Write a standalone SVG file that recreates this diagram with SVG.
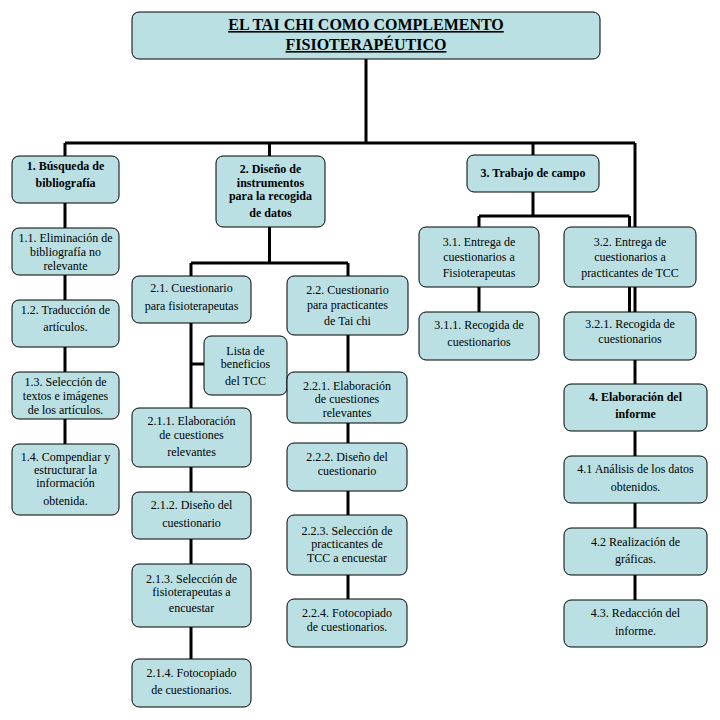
<svg xmlns="http://www.w3.org/2000/svg" width="720" height="720" viewBox="0 0 720 720">
<style>
.b{fill:#bbe0e3;stroke:#000;stroke-width:1}
.t{font-family:Liberation Serif,Times New Roman,Times,serif;font-size:12px;fill:#000;text-anchor:middle}
.bd{font-weight:bold}
.ti{font-family:Liberation Serif,Times New Roman,Times,serif;font-size:16px;font-weight:bold;fill:#000;text-anchor:middle;text-decoration:underline}
.c{stroke:#000;stroke-width:3;fill:none}
</style>
<rect width="720" height="720" fill="#fff"/>
<g id="connectors">
<path class="c" d="M366 59V143M65 143H635M65 143V444M269.5 143V263M191 263H348M191 263V659M348 263V599M191 364H204M533 143V216M479 216H629.5M479 216V312M629.5 216V312M635 143V600"/>
</g>
<g id="title"><rect class="b" x="132" y="12" width="468" height="47" rx="7"/><text class="ti" x="366" y="30">EL TAI CHI COMO COMPLEMENTO</text><text class="ti" x="366" y="50">FISIOTERAPÉUTICO</text></g>
<g id="n1"><rect class="b" x="12" y="156" width="107" height="47" rx="7"/><text class="t bd" x="65.5" y="170">1. Búsqueda de</text><text class="t bd" x="65.5" y="187">bibliografía</text></g>
<g id="n1_1"><rect class="b" x="12" y="228" width="107" height="47" rx="7"/><text class="t" x="65.5" y="242">1.1. Eliminación de</text><text class="t" x="65.5" y="256">bibliografía no</text><text class="t" x="65.5" y="270">relevante</text></g>
<g id="n1_2"><rect class="b" x="12" y="300" width="107" height="47" rx="7"/><text class="t" x="65.5" y="314">1.2. Traducción de</text><text class="t" x="65.5" y="331">artículos.</text></g>
<g id="n1_3"><rect class="b" x="12" y="372" width="107" height="47" rx="7"/><text class="t" x="65.5" y="386">1.3. Selección de</text><text class="t" x="65.5" y="400">textos e imágenes</text><text class="t" x="65.5" y="414">de los artículos.</text></g>
<g id="n1_4"><rect class="b" x="12" y="444" width="107" height="71" rx="7"/><text class="t" x="65.5" y="461">1.4. Compendiar y</text><text class="t" x="65.5" y="474">estructurar la</text><text class="t" x="65.5" y="487">información</text><text class="t" x="65.5" y="505">obtenida.</text></g>
<g id="n2"><rect class="b" x="216" y="156" width="109" height="71" rx="7"/><text class="t bd" x="270.5" y="173">2. Diseño de</text><text class="t bd" x="270.5" y="187">instrumentos</text><text class="t bd" x="270.5" y="200">para la recogida</text><text class="t bd" x="270.5" y="217">de datos</text></g>
<g id="n2_1"><rect class="b" x="132" y="276" width="119" height="47" rx="7"/><text class="t" x="191.5" y="292">2.1. Cuestionario</text><text class="t" x="191.5" y="310">para fisioterapeutas</text></g>
<g id="lista"><rect class="b" x="204" y="336" width="83" height="59" rx="7"/><text class="t" x="245.5" y="355">Lista de</text><text class="t" x="245.5" y="368">beneficios</text><text class="t" x="245.5" y="385">del TCC</text></g>
<g id="n2_1_1"><rect class="b" x="132" y="408" width="119" height="59" rx="7"/><text class="t" x="191.5" y="425">2.1.1. Elaboración</text><text class="t" x="191.5" y="439">de cuestiones</text><text class="t" x="191.5" y="456">relevantes</text></g>
<g id="n2_1_2"><rect class="b" x="132" y="492" width="119" height="47" rx="7"/><text class="t" x="191.5" y="509">2.1.2. Diseño del</text><text class="t" x="191.5" y="527">cuestionario</text></g>
<g id="n2_1_3"><rect class="b" x="132" y="564" width="119" height="63" rx="7"/><text class="t" x="191.5" y="583">2.1.3. Selección de</text><text class="t" x="191.5" y="596">fisioterapeutas a</text><text class="t" x="191.5" y="612">encuestar</text></g>
<g id="n2_1_4"><rect class="b" x="132" y="659" width="119" height="48" rx="7"/><text class="t" x="191.5" y="677">2.1.4. Fotocopiado</text><text class="t" x="191.5" y="694">de cuestionarios.</text></g>
<g id="n2_2"><rect class="b" x="287" y="276" width="121" height="59" rx="7"/><text class="t" x="347.5" y="294">2.2. Cuestionario</text><text class="t" x="347.5" y="309">para practicantes</text><text class="t" x="347.5" y="325">de Tai chi</text></g>
<g id="n2_2_1"><rect class="b" x="287" y="372" width="120" height="51" rx="7"/><text class="t" x="347" y="390">2.2.1. Elaboración</text><text class="t" x="347" y="403">de cuestiones</text><text class="t" x="347" y="417">relevantes</text></g>
<g id="n2_2_2"><rect class="b" x="287" y="443" width="120" height="48" rx="7"/><text class="t" x="347" y="461">2.2.2. Diseño del</text><text class="t" x="347" y="475">cuestionario</text></g>
<g id="n2_2_3"><rect class="b" x="287" y="515" width="120" height="60" rx="7"/><text class="t" x="347" y="535">2.2.3. Selección de</text><text class="t" x="347" y="548">practicantes de</text><text class="t" x="347" y="562">TCC a encuestar</text></g>
<g id="n2_2_4"><rect class="b" x="287" y="599" width="120" height="48" rx="7"/><text class="t" x="347" y="617">2.2.4. Fotocopiado</text><text class="t" x="347" y="631">de cuestionarios.</text></g>
<g id="n3"><rect class="b" x="467" y="155" width="132" height="37" rx="7"/><text class="t bd" x="533" y="177">3. Trabajo de campo</text></g>
<g id="n3_1"><rect class="b" x="419" y="227" width="120" height="60" rx="7"/><text class="t" x="479" y="246">3.1. Entrega de</text><text class="t" x="479" y="261">cuestionarios a</text><text class="t" x="479" y="277">Fisioterapeutas</text></g>
<g id="n3_1_1"><rect class="b" x="419" y="312" width="120" height="48" rx="7"/><text class="t" x="479" y="329">3.1.1. Recogida de</text><text class="t" x="479" y="346">cuestionarios</text></g>
<g id="n3_2"><rect class="b" x="564" y="227" width="132" height="60" rx="7"/><text class="t" x="630" y="246">3.2. Entrega de</text><text class="t" x="630" y="261">cuestionarios a</text><text class="t" x="630" y="277">practicantes de TCC</text></g>
<g id="n3_2_1"><rect class="b" x="564" y="312" width="132" height="48" rx="7"/><text class="t" x="630" y="328">3.2.1. Recogida de</text><text class="t" x="630" y="343">cuestionarios</text></g>
<g id="n4"><rect class="b" x="564" y="384" width="143" height="47" rx="7"/><text class="t bd" x="635.5" y="401">4. Elaboración del</text><text class="t bd" x="635.5" y="418">informe</text></g>
<g id="n4_1"><rect class="b" x="564" y="456" width="143" height="47" rx="7"/><text class="t" x="635.5" y="473">4.1 Análisis de los datos</text><text class="t" x="635.5" y="491">obtenidos.</text></g>
<g id="n4_2"><rect class="b" x="564" y="528" width="143" height="47" rx="7"/><text class="t" x="635.5" y="546">4.2 Realización de</text><text class="t" x="635.5" y="563">gráficas.</text></g>
<g id="n4_3"><rect class="b" x="564" y="600" width="143" height="47" rx="7"/><text class="t" x="635.5" y="617">4.3. Redacción del</text><text class="t" x="635.5" y="635">informe.</text></g>
</svg>
